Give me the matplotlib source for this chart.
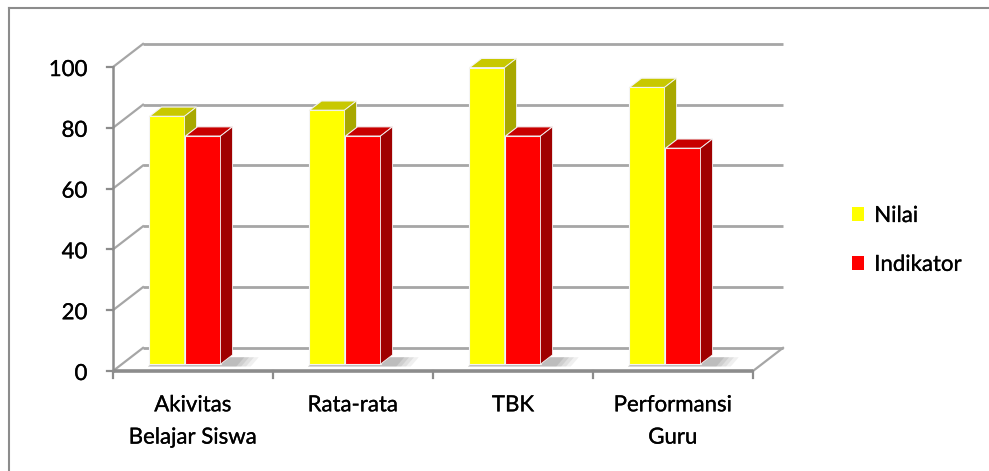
import matplotlib.pyplot as plt
import matplotlib.patheffects as pe
from matplotlib.patches import Polygon, Patch

categories = ['Akivitas\nBelajar Siswa', 'Rata-rata', 'TBK', 'Performansi\nGuru']
series = ['Nilai', 'Indikator']
nilai = [81.5, 83.5, 97.5, 91]
indikator = [75, 75, 75, 71]
yticks = [0, 20, 40, 60, 80, 100]

# front, top, side face colours of each series
yellow = ('#ffff00', '#c8c800', '#a8a800')
red = ('#ff0000', '#c80000', '#a00000')

plt.rcParams['font.family'] = ['Lato', 'DejaVu Sans']
ink = [pe.withStroke(linewidth=0.2, foreground='black')]

fig = plt.figure(figsize=(9.89, 4.71), dpi=100)
ax = fig.add_axes([0, 0, 1, 1])
ax.set_xlim(-0.70625, 5.475)
ax.set_ylim(-32.9, 122.04)
ax.axis('off')

n = len(categories)
DX, DY = 0.1875, 7.6          # depth of the plot box (category / value units)
grid_c = '#a6a6a6'
axis_c = '#8c8c8c'

# walls: back gridlines and the slanted lines on the side wall
for v in yticks:
    ax.plot([DX, n + DX], [v + DY, v + DY], color=grid_c, lw=2, solid_capstyle='butt', zorder=1)
    ax.plot([0, DX], [v, v + DY], color=grid_c, lw=1.6, zorder=1)
    ax.plot([-0.04, 0], [v, v], color=axis_c, lw=1.6, zorder=2)
    ax.text(-0.16, v - 1.0, str(v), ha='right', va='center', fontsize=16, path_effects=ink)

# floor edges, value axis and category ticks
ax.plot([0, n], [0, 0], color=axis_c, lw=2.6, solid_capstyle='butt', zorder=2)
ax.plot([n, n + DX], [0, DY], color=grid_c, lw=1.6, zorder=1)
ax.plot([0, 0], [0, 100], color=axis_c, lw=1.8, zorder=2)
for i in range(n + 1):
    ax.plot([i, i], [0, -2.3], color=axis_c, lw=1.6, zorder=2)

# 3d columns
base = 0.3 * DY
bw = 0.219
ddx, ddy = 0.4 * DX, 0.4 * DY


def column(x, h, cols):
    front, top, side = cols
    ax.bar(x, h, width=bw, bottom=base, align='edge', color=front,
           edgecolor='#f4f4f4', linewidth=0.8, zorder=4)
    ax.add_patch(Polygon([(x, base + h), (x + bw, base + h),
                          (x + bw + ddx, base + h + ddy), (x + ddx, base + h + ddy)],
                         closed=True, facecolor=top, edgecolor='#f4f4f4', lw=0.8, zorder=4))
    ax.add_patch(Polygon([(x + bw, base), (x + bw + ddx, base + ddy),
                          (x + bw + ddx, base + h + ddy), (x + bw, base + h)],
                         closed=True, facecolor=side, edgecolor='#f4f4f4', lw=0.6, zorder=4))


for i in range(n):
    x0 = i + 0.228
    # soft shadow on the floor
    for k, a in enumerate([0.1, 0.12, 0.15, 0.18]):
        s = 0.03 * (4 - k)
        ax.add_patch(Polygon([(x0 - 0.01, base - 0.8), (x0 + 2 * bw + ddx + s, base - 0.8),
                              (x0 + 2 * bw + ddx + s + 0.05, base + ddy - 0.8),
                              (x0 + ddx, base + ddy - 0.8)],
                             closed=True, facecolor='#707070', alpha=a, lw=0, zorder=3))
    column(x0, nilai[i], yellow)
    column(x0 + bw + 0.006, indikator[i], red)
    ax.text(i + 0.5, -8.0, categories[i], ha='center', va='top', fontsize=16,
            linespacing=1.77, path_effects=ink)

handles = [Patch(facecolor=yellow[0]), Patch(facecolor=red[0])]
leg = ax.legend(handles, series, loc='upper left', bbox_to_anchor=(852 / 989, 1 - 206 / 471),
                bbox_transform=fig.transFigure, frameon=False, borderpad=0, borderaxespad=0,
                handlelength=0.55, handleheight=0.55, handletextpad=0.45, labelspacing=1.3,
                fontsize=16)
for t in leg.get_texts():
    t.set_path_effects(ink)

# chart area border (top and left edges)
fig.add_artist(plt.Line2D([9 / 989, 1], [1 - 8 / 471, 1 - 8 / 471], color='#8c8c8c', lw=1.5))
fig.add_artist(plt.Line2D([9 / 989, 9 / 989], [1 - 8 / 471, 0], color='#8c8c8c', lw=1.5))

fig.savefig('out.png', dpi=100)
